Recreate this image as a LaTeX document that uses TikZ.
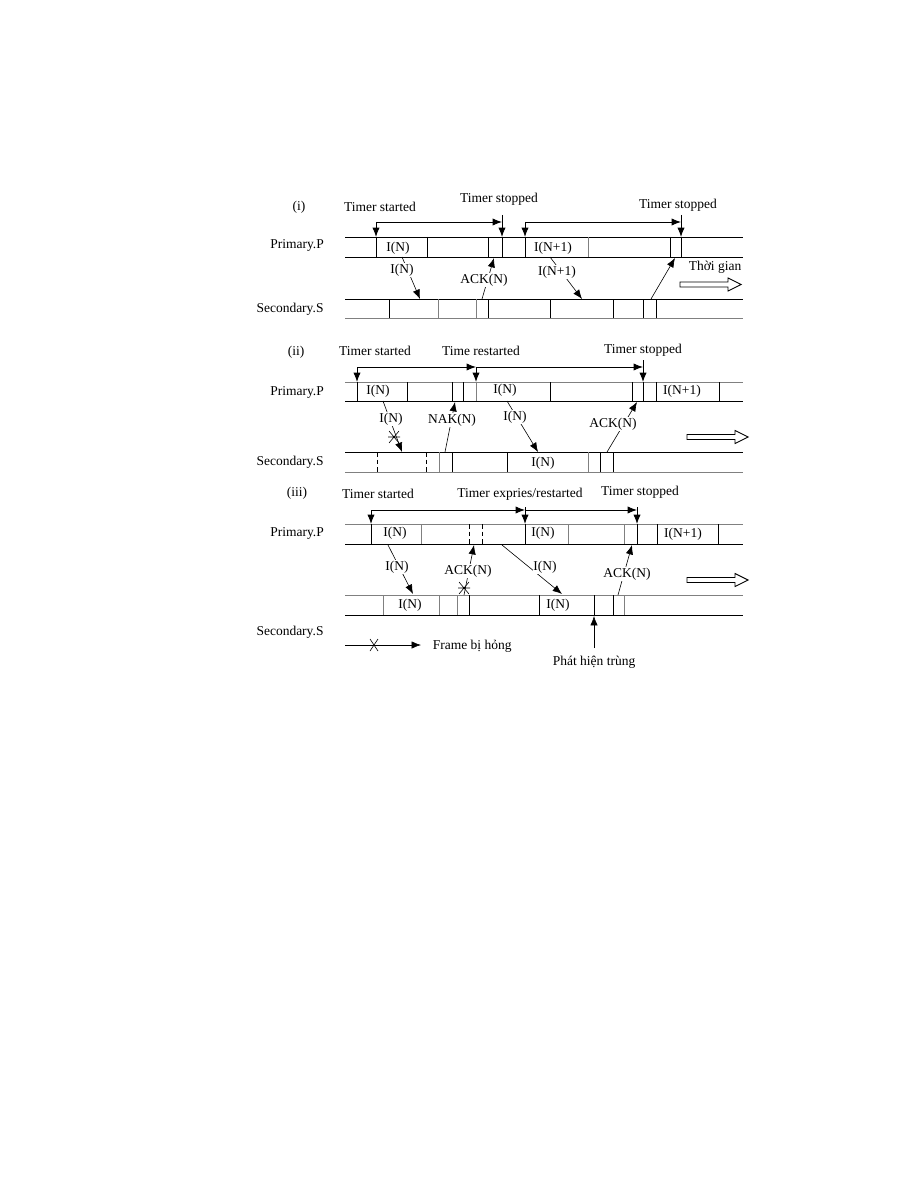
\documentclass[tikz,border=0pt]{standalone}
\usepackage{fontspec}
\setmainfont{Liberation Serif}
\usetikzlibrary{arrows.meta}
\definecolor{rule}{HTML}{808080}
\begin{document}
\begin{tikzpicture}[x=0.6667pt,y=-0.6667pt,
every node/.style={font=\fontsize{9}{10}\selectfont,inner sep=1pt},
lbl/.style={fill=white,inner sep=0.5pt},
band/.style={line width=0.6pt},
lite/.style={draw=rule,line width=0.5pt},
gap/.style={dashed,dash pattern=on 3pt off 2pt,line width=0.6pt},
arr/.style={-{Latex[length=2.2mm,width=1.7mm]},line width=0.4pt},
tarr/.style={-{Latex[length=2.2mm,width=1.7mm]},line width=0.6pt},
hollow/.style={line width=0.6pt},
xmark/.style={line width=0.4pt}]
\useasboundingbox (0,0) rectangle (918,1188);
% (i)
\coordinate (p1t) at (345,237); \coordinate (p1b) at (345,257);
\coordinate (s1t) at (345,299); \coordinate (s1b) at (345,318);
\draw[band] (p1t)--++(398,0); \draw[band] (p1b)--++(398,0);
\draw[band] (s1t)--++(398,0); \draw[lite] (s1b)--++(398,0);
\foreach \x in {376,427,488,502,525,670,681} \draw[band] (\x,237)--(\x,257);
\draw[lite] (588,237)--(588,257);
\foreach \x in {389,488,550,613,643,656} \draw[band] (\x,299)--(\x,318);
\foreach \x in {438,476} \draw[lite] (\x,299)--(\x,318);
\coordinate (t1a) at (376,222); \coordinate (t1b) at (502,215);
\coordinate (t1c) at (525,222); \coordinate (t1d) at (681,215);
\draw[tarr] (t1a)--(t1a |- p1t); \draw[tarr] (t1a)--(t1b |- t1a); \draw[tarr] (t1b)--(t1b |- p1t);
\draw[tarr] (t1c)--(t1c |- p1t); \draw[tarr] (t1c)--(t1d |- t1c); \draw[tarr] (t1d)--(t1d |- p1t);
\coordinate (i1a) at (402,257); \coordinate (i1b) at (420,299);
\coordinate (k1a) at (482,299); \coordinate (k1b) at (494,258);
\coordinate (j1a) at (550,257); \coordinate (j1b) at (582,299);
\coordinate (m1a) at (651,299); \coordinate (m1b) at (675,258);
\draw[arr] (i1a)--(i1b); \draw[arr] (k1a)--(k1b); \draw[arr] (j1a)--(j1b); \draw[arr] (m1a)--(m1b);
\node (q1) at (299,207) {(i)};
\node (ts1) at (380,207) {Timer started};
\node (tp1) at (499,199) {Timer stopped};
\node (tq1) at (678,205) {Timer stopped};
\node (pp1) at (297,245) {Primary.P};
\node (ss1) at (290,309) {Secondary.S};
\node (f1) at (398,248) {I(N)};
\node (g1) at (553,248) {I(N+1)};
\node[lbl] (li1) at (402,270) {I(N)};
\node[lbl] (lk1) at (484,280) {ACK(N)};
\node[lbl] (lj1) at (557,272) {I(N+1)};
\node (tg) at (715,267) {Thời gian};
\coordinate (h1) at (680,284.5);
% (ii)
\coordinate (p2t) at (345,382); \coordinate (p2b) at (345,401);
\coordinate (s2t) at (345,452); \coordinate (s2b) at (345,472);
\draw[lite] (p2t)--++(398,0); \draw[band] (p2b)--++(398,0);
\draw[band] (s2t)--++(398,0); \draw[lite] (s2b)--++(398,0);
\foreach \x in {357,407,452,463,550,632,643,656,719} \draw[band] (\x,382)--(\x,401);
\draw[lite] (476,382)--(476,401);
\foreach \x in {377,426} \draw[gap] (\x,452)--(\x,472);
\foreach \x in {452,507,600,613} \draw[band] (\x,452)--(\x,472);
\foreach \x in {439,588} \draw[lite] (\x,452)--(\x,472);
\coordinate (t2a) at (357,367); \coordinate (t2b) at (476,367); \coordinate (t2c) at (643,360);
\draw[tarr] (t2a)--(t2a |- p2t); \draw[tarr] (t2a)--(t2b); \draw[tarr] (t2b)--(t2b |- p2t);
\draw[tarr] (t2b)--(t2c |- t2b); \draw[tarr] (t2c)--(t2c |- p2t);
\coordinate (i2a) at (383,401); \coordinate (i2b) at (402,452);
\coordinate (n2a) at (445,452); \coordinate (n2b) at (455,402);
\coordinate (j2a) at (507,401); \coordinate (j2b) at (538,452);
\coordinate (k2a) at (607,452); \coordinate (k2b) at (637,402);
\draw[arr] (i2a)--(i2b); \draw[arr] (n2a)--(n2b); \draw[arr] (j2a)--(j2b); \draw[arr] (k2a)--(k2b);
\coordinate (x2) at (394,437);
\draw[xmark] (x2) ++(-5,-6)--++(10,12) (x2) ++(-5,6)--++(10,-12) (x2) ++(-6,0)--++(12,0);
\node (q2) at (296,352) {(ii)};
\node (ts2) at (375,351) {Timer started};
\node (tr2) at (481,351) {Time restarted};
\node (tp2) at (643,350) {Timer stopped};
\node (pp2) at (297,392) {Primary.P};
\node (ss2) at (290,462) {Secondary.S};
\node (f2) at (378,391) {I(N)};
\node (g2) at (505,390) {I(N)};
\node (e2) at (682,391) {I(N+1)};
\node (d2) at (543,463) {I(N)};
\node[lbl] (li2) at (391,419) {I(N)};
\node[lbl] (ln2) at (452,420) {NAK(N)};
\node[lbl] (lj2) at (515,417) {I(N)};
\node[lbl] (lk2) at (613,424) {ACK(N)};
\coordinate (h2) at (687,437);
% (iii)
\coordinate (p3t) at (345,524); \coordinate (p3b) at (345,544);
\coordinate (s3t) at (345,595); \coordinate (s3b) at (345,615);
\draw[lite] (p3t)--++(398,0); \draw[band] (p3b)--++(398,0);
\draw[lite] (s3t)--++(398,0); \draw[band] (s3b)--++(398,0);
\foreach \x in {371,525,637,657,718} \draw[band] (\x,524)--(\x,544);
\foreach \x in {421,568,624} \draw[lite] (\x,524)--(\x,544);
\foreach \x in {469,482} \draw[gap] (\x,524)--(\x,544);
\foreach \x in {469,539,594,613} \draw[band] (\x,595)--(\x,615);
\foreach \x in {383,439,457,624} \draw[lite] (\x,595)--(\x,615);
\coordinate (t3a) at (371,510); \coordinate (t3b) at (525,507); \coordinate (t3c) at (637,507);
\draw[tarr] (t3a)--(t3a |- p3t); \draw[tarr] (t3a)--(t3b |- t3a); \draw[tarr] (t3b)--(t3b |- p3t);
\draw[tarr] (t3b |- t3a)--(t3c |- t3a); \draw[tarr] (t3c)--(t3c |- p3t);
\coordinate (i3a) at (388,545); \coordinate (i3b) at (413,594);
\coordinate (k3a) at (464,595); \coordinate (k3b) at (474,545);
\coordinate (j3a) at (502,545); \coordinate (j3b) at (562,594);
\coordinate (m3a) at (618,595); \coordinate (m3b) at (632,545);
\coordinate (u3a) at (594,648); \coordinate (u3b) at (594,616);
\draw[arr] (i3a)--(i3b); \draw[arr] (k3a)--(k3b); \draw[arr] (j3a)--(j3b); \draw[arr] (m3a)--(m3b);
\draw[arr] (u3a)--(u3b);
\coordinate (x3) at (464,588);
\draw[xmark] (x3) ++(-5,-6)--++(10,12) (x3) ++(-5,6)--++(10,-12) (x3) ++(-6,0)--++(12,0);
\node (q3) at (297,493) {(iii)};
\node (ts3) at (378,494) {Timer started};
\node (te3) at (520,494) {Timer expries/restarted};
\node (tp3) at (640,492) {Timer stopped};
\node (pp3) at (297,533) {Primary.P};
\node (ss3) at (290,632) {Secondary.S};
\node (f3) at (395,533) {I(N)};
\node (g3) at (543,533) {I(N)};
\node (e3) at (683,534) {I(N+1)};
\node (c3) at (410,605) {I(N)};
\node (d3) at (558,605) {I(N)};
\node[lbl] (li3) at (397,567) {I(N)};
\node[lbl] (lk3) at (468,571) {ACK(N)};
\node[lbl] (lj3) at (545,567) {I(N)};
\node[lbl] (lm3) at (627,574) {ACK(N)};
\node (dup) at (594,662) {Phát hiện trùng};
\coordinate (h3) at (687,580);
% legend
\coordinate (lga) at (345,645); \coordinate (lgb) at (421,645); \coordinate (lgx) at (374,645);
\draw[arr] (lga)--(lgb);
\draw[xmark] (lgx) ++(-4,-6)--++(8,12) (lgx) ++(-4,6)--++(8,-12);
\node[anchor=west] (lgt) at (431,646) {Frame bị hỏng};
\foreach \h in {h1,h2,h3}
  \draw[hollow] (\h) ++(0,-2.5)--++(48,0)--++(0,-4)--++(13,6.5)--++(-13,6.5)--++(0,-4)--++(-48,0)--cycle;
\end{tikzpicture}
\end{document}
